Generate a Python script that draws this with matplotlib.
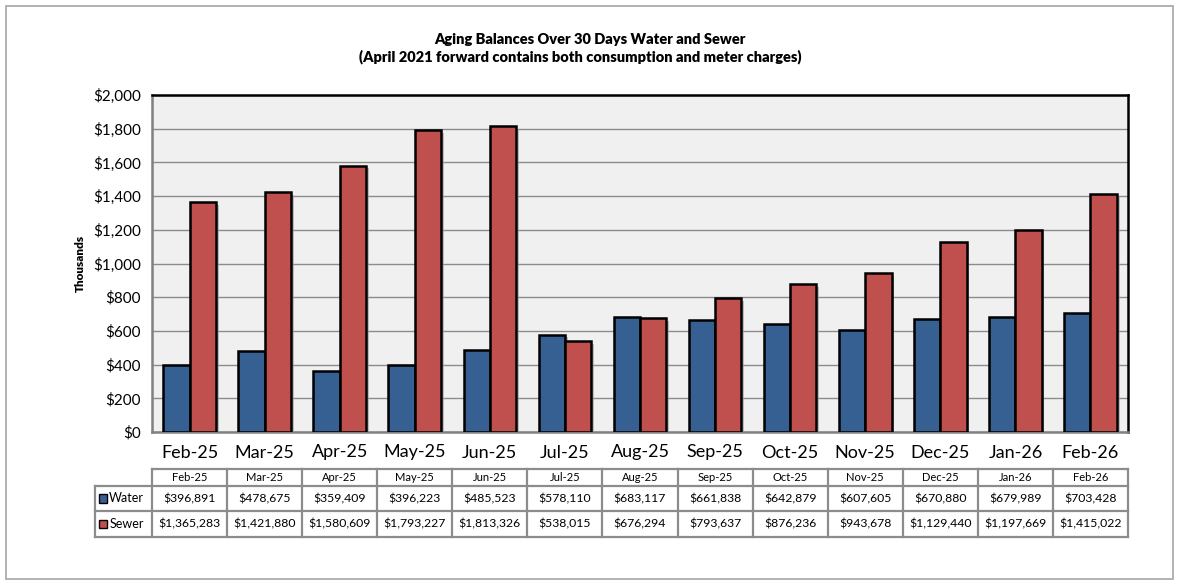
import matplotlib
matplotlib.use("Agg")
import matplotlib.pyplot as plt
from matplotlib.patches import Rectangle
from matplotlib.transforms import blended_transform_factory
import matplotlib.patheffects as pe
import numpy as np

months = ["Feb-25", "Mar-25", "Apr-25", "May-25", "Jun-25", "Jul-25", "Aug-25",
          "Sep-25", "Oct-25", "Nov-25", "Dec-25", "Jan-26", "Feb-26"]
water = [396891, 478675, 359409, 396223, 485523, 578110, 683117,
         661838, 642879, 607605, 670880, 679989, 703428]
sewer = [1365283, 1421880, 1580609, 1793227, 1813326, 538015, 676294,
         793637, 876236, 943678, 1129440, 1197669, 1415022]
series_names = ["Water", "Sewer"]
colors = ["#376092", "#C0504D"]

plt.rcParams['font.family'] = ['Lato', 'DejaVu Sans']

fig = plt.figure(figsize=(11.81, 5.85), dpi=100)
W, H = 1181, 585
# outer border
fig.patches.append(Rectangle((6 / W, 1 - 579 / H), (1173 - 6) / W, (579 - 6) / H,
                             transform=fig.transFigure, fill=False,
                             edgecolor="#A6A6A6", linewidth=1.2))

L, R, T, B = 152, 1128, 95, 432
ax = fig.add_axes([L / W, 1 - B / H, (R - L) / W, (B - T) / H])
ax.set_facecolor("#F0F0F0")

x = np.arange(len(months))
bw = 0.35
shadow = [pe.SimplePatchShadow(offset=(2, -2), shadow_rgbFace="#999999", alpha=0.6), pe.Normal()]
vals = [np.array(water) / 1000, np.array(sewer) / 1000]
for k, (v, c) in enumerate(zip(vals, colors)):
    bars = ax.bar(x + (k - 0.5) * bw, v, width=bw, color=c, edgecolor="black",
                  linewidth=1.8, zorder=3)
    for b in bars:
        b.set_path_effects(shadow)

ax.set_xlim(-0.5, len(months) - 0.5)
ax.set_ylim(0, 2000)
yt = np.arange(0, 2001, 200)
ax.set_yticks(yt)
ax.set_yticklabels(["${:,}".format(t) for t in yt], fontsize=11)
ax.yaxis.grid(True, color="#8C8C8C", linewidth=1.0, zorder=0)
ax.set_axisbelow(True)
ax.tick_params(axis="y", length=0, pad=8)
ax.set_xticks(x)
ax.set_xticklabels(months, fontsize=13)
ax.tick_params(axis="x", length=0, pad=9)
for s in ax.spines.values():
    s.set_linewidth(1.8)
    s.set_color("black")
ax.spines["left"].set_color("#808080")
ax.spines["bottom"].set_color("#808080")

ax.set_ylabel("Thousands", fontsize=8.5, fontweight="heavy", labelpad=5)

fig.text(590 / W, 1 - 40 / H, "Aging Balances Over 30 Days Water and Sewer",
         ha="center", va="center", fontsize=10.5, fontweight="heavy")
fig.text(580 / W, 1 - 57 / H, "(April 2021 forward contains both consumption and meter charges)",
         ha="center", va="center", fontsize=10.5, fontweight="heavy")

# data table
tr = blended_transform_factory(ax.transData, ax.transAxes)
def ay(py):
    return (B - py) / (B - T)

y_head_top, y_head_bot, y_w_bot, y_s_bot = ay(469), ay(486), ay(511), ay(537)
lc = "#8C8C8C"
lw = 1.6
label_left = -0.5 - 57 / 75.0
# horizontal lines
ax.plot([-0.5, len(months) - 0.5], [y_head_top] * 2, transform=tr, color=lc, lw=lw, clip_on=False)
for yy in [y_head_bot, y_w_bot, y_s_bot]:
    ax.plot([label_left, len(months) - 0.5], [yy] * 2, transform=tr, color=lc, lw=lw, clip_on=False)
# vertical lines
for i in range(len(months) + 1):
    ax.plot([i - 0.5] * 2, [y_head_top, y_s_bot], transform=tr, color=lc, lw=lw, clip_on=False)
ax.plot([label_left] * 2, [y_head_bot, y_s_bot], transform=tr, color=lc, lw=lw, clip_on=False)

for i, m in enumerate(months):
    ax.text(i, (y_head_top + y_head_bot) / 2, m, transform=tr, ha="center", va="center", fontsize=8)
    ax.text(i, (y_head_bot + y_w_bot) / 2, "${:,}".format(water[i]), transform=tr,
            ha="center", va="center", fontsize=8.8)
    ax.text(i, (y_w_bot + y_s_bot) / 2, "${:,}".format(sewer[i]), transform=tr,
            ha="center", va="center", fontsize=8.8)

rows_mid = [(y_head_bot + y_w_bot) / 2, (y_w_bot + y_s_bot) / 2]
for name, c, ym in zip(series_names, colors, rows_mid):
    ax.add_patch(Rectangle((label_left + 0.06, ym - 0.012), 0.1, 0.024, transform=tr,
                           facecolor=c, edgecolor="black", linewidth=1.0, clip_on=False))
    ax.text(label_left + 0.19, ym, name, transform=tr, ha="left", va="center", fontsize=9)

fig.savefig("out.png", dpi=100)
